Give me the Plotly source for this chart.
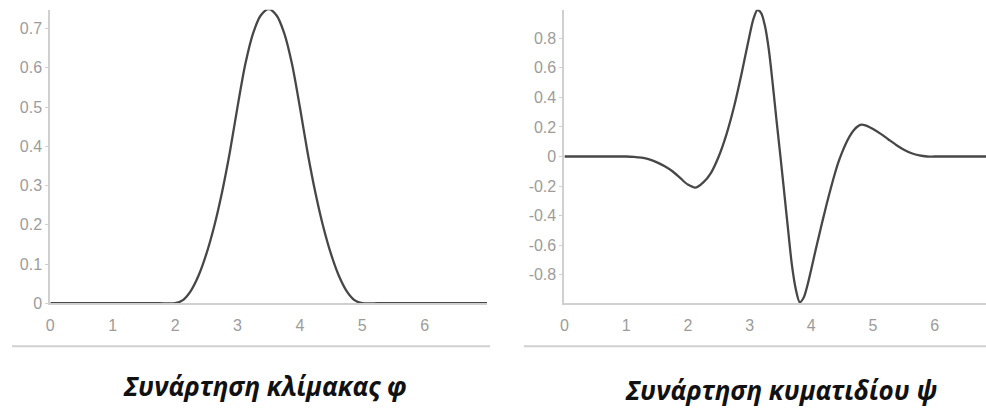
import plotly.graph_objects as go

# ---------------- data ----------------
phi_x = [0, 1.0, 1.5, 1.75, 2.0, 2.125, 2.25, 2.375, 2.5, 2.625, 2.75, 2.875, 3.0,
         3.125, 3.25, 3.375, 3.5, 3.625, 3.75, 3.875, 4.0, 4.125, 4.25, 4.375,
         4.5, 4.625, 4.75, 4.875, 5.0, 5.25, 5.5, 6.0, 7.0]
phi_y = [0, 0, 0, 0, 0, 0.008, 0.031, 0.070, 0.125, 0.195, 0.281, 0.383, 0.5,
         0.609, 0.688, 0.734, 0.75, 0.734, 0.688, 0.609, 0.5, 0.383, 0.281, 0.195,
         0.125, 0.070, 0.031, 0.008, 0, 0, 0, 0, 0]

psi_x = [0, 0.5, 0.875, 1.0, 1.125, 1.25, 1.375, 1.5, 1.625, 1.75, 1.875, 2.0,
         2.125, 2.25, 2.375, 2.5, 2.625, 2.75, 2.875, 3.0, 3.0625, 3.125, 3.1875,
         3.25, 3.3125, 3.375, 3.4375, 3.5, 3.5625, 3.625, 3.6875, 3.75, 3.8125,
         3.875, 3.9375, 4.0, 4.0625, 4.125, 4.1875, 4.25, 4.3125, 4.375, 4.4375,
         4.5, 4.5625, 4.625, 4.6875, 4.75, 4.8125, 4.875, 4.9375, 5.0, 5.125,
         5.25, 5.375, 5.5, 5.625, 5.75, 5.875, 6.0, 6.5, 6.83]
psi_y = [0, 0, 0, 0, -0.002, -0.008, -0.02, -0.04, -0.066, -0.10, -0.145, -0.19,
         -0.21, -0.175, -0.11, 0.0, 0.15, 0.34, 0.57, 0.82, 0.93, 0.99, 0.97,
         0.88, 0.72, 0.49, 0.24, 0.0, -0.25, -0.50, -0.74, -0.90, -0.985,
         -0.955, -0.87, -0.76, -0.645, -0.535, -0.425, -0.32, -0.22, -0.125, -0.04,
         0.03, 0.09, 0.14, 0.178, 0.203, 0.215, 0.211, 0.200, 0.186, 0.153,
         0.115, 0.078, 0.046, 0.022, 0.007, 0.0, 0.0, 0, 0]

phi_xticks = [0, 1, 2, 3, 4, 5, 6]
phi_yticks = [0, 0.1, 0.2, 0.3, 0.4, 0.5, 0.6, 0.7]
psi_xticks = [0, 1, 2, 3, 4, 5, 6]
psi_yticks = [-0.8, -0.6, -0.4, -0.2, 0, 0.2, 0.4, 0.6, 0.8]
psi_yticktext = ["-0.8", "-0.6", "-0.4", "-0.2", "0", "0.2", "0.4", "0.6", "0.8"]

title_phi = "Συνάρτηση κλίμακας φ"
title_psi = "Συνάρτηση κυματιδίου ψ"

# ---------------- figure ----------------
W, H = 986, 412
LINE = "#474747"
AXIS = "#d0d0d0"
TICK = "#9c9c9c"

fig = go.Figure()
fig.add_trace(go.Scatter(x=phi_x, y=phi_y, mode="lines", xaxis="x", yaxis="y",
                         line=dict(color=LINE, width=2.3, shape="spline", smoothing=0.8),
                         showlegend=False, hoverinfo="skip"))
fig.add_trace(go.Scatter(x=psi_x, y=psi_y, mode="lines", xaxis="x2", yaxis="y2",
                         line=dict(color=LINE, width=2.3, shape="spline", smoothing=0.8),
                         showlegend=False, hoverinfo="skip"))

def px_x(p):
    return p / W

def px_y(p):
    return (H - p) / H

TFONT = dict(family="Liberation Sans, Arial", size=16, color=TICK)
common_x = dict(showgrid=False, zeroline=False, showline=True, linecolor=AXIS,
                linewidth=2, ticks="", tickfont=TFONT, ticklabelstandoff=7)
common_y = dict(showgrid=False, zeroline=False, showline=True, linecolor=AXIS,
                linewidth=2, ticks="outside", ticklen=3, tickcolor=AXIS, tickwidth=1,
                tickfont=TFONT, ticklabelstandoff=0)

fig.update_layout(
    width=W, height=H,
    margin=dict(l=0, r=0, t=0, b=0),
    paper_bgcolor="white", plot_bgcolor="white",
    xaxis=dict(common_x, domain=[px_x(46.5), px_x(485)], range=[0, 7.0],
               tickvals=phi_xticks, anchor="y"),
    yaxis=dict(common_y, domain=[px_y(310), px_y(10)], range=[0, 0.748],
               tickvals=phi_yticks, anchor="x"),
    xaxis2=dict(common_x, domain=[px_x(562.7), 1.0], range=[0, 6.83],
                tickvals=psi_xticks, anchor="y2"),
    yaxis2=dict(common_y, domain=[px_y(310), px_y(10)], range=[-0.992, 0.992],
                tickvals=psi_yticks, ticktext=psi_yticktext, anchor="x2"),
    shapes=[
        dict(type="line", xref="paper", yref="paper", x0=px_x(8), x1=px_x(488),
             y0=px_y(354), y1=px_y(354), line=dict(color=AXIS, width=2)),
        dict(type="line", xref="paper", yref="paper", x0=px_x(522), x1=1.0,
             y0=px_y(354), y1=px_y(354), line=dict(color=AXIS, width=2)),
    ],
    annotations=[
        dict(text="<b><i>" + title_phi + "</i></b>", xref="paper", yref="paper",
             x=px_x(262), y=px_y(395), xanchor="center", yanchor="middle",
             showarrow=False, font=dict(family="Open Sans", size=26, color="#111111")),
        dict(text="<b><i>" + title_psi + "</i></b>", xref="paper", yref="paper",
             x=px_x(781), y=px_y(399), xanchor="center", yanchor="middle",
             showarrow=False, font=dict(family="Open Sans", size=26, color="#111111")),
    ],
)

fig.write_html("out.html")
